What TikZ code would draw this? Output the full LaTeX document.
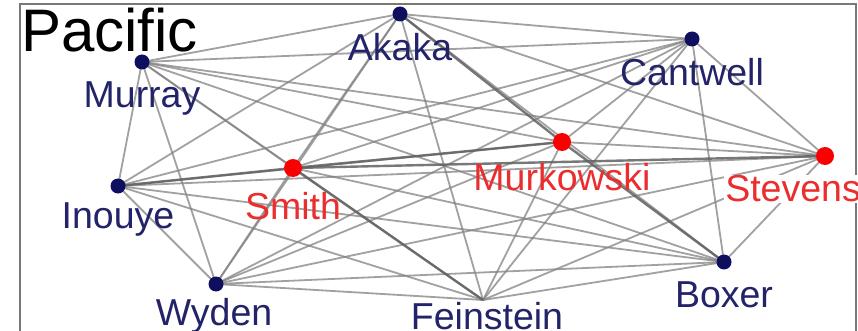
\documentclass[tikz,border=0pt]{standalone}
\usepackage{fontspec}
\setmainfont{Liberation Sans}
\definecolor{navydot}{RGB}{15,15,95}
\definecolor{navytext}{RGB}{35,35,105}
\definecolor{reddot}{RGB}{250,0,0}
\definecolor{redtext}{RGB}{235,45,45}
\definecolor{edgegray}{RGB}{130,130,130}
\definecolor{framegray}{RGB}{120,120,120}
\begin{document}
\begin{tikzpicture}[x=1pt,y=-1pt,
  tie/.style={draw=edgegray,line width=1.8pt,opacity=0.75},
  heavytie/.style={draw=edgegray!75!black,line width=2.4pt,opacity=0.85},
  bluedot/.style={circle,fill=navydot,inner sep=0pt,minimum size=15pt},
  reddotst/.style={circle,fill=reddot,inner sep=0pt,minimum size=18pt},
  namebase/.style={font=\fontsize{37.5}{42}\selectfont,inner sep=1pt},
  bluename/.style={namebase,text=navytext},
  redname/.style={namebase,text=redtext}]
\useasboundingbox (0,0) rectangle (858,331);
\fill[white] (0,0) rectangle (858,331);
% frame
\draw[framegray,line width=1.8pt] (20,345) -- (20,4) -- (856,4) -- (856,345);
% senators
\coordinate (A) at (400,14);
\coordinate (C) at (692,39);
\coordinate (Mu) at (142,62);
\coordinate (Mk) at (562,142);
\coordinate (Sm) at (293,168);
\coordinate (St) at (825,156);
\coordinate (I) at (118,186);
\coordinate (W) at (216,284);
\coordinate (F) at (483,300);
\coordinate (B) at (724,262);
% ties
\foreach \u/\v in {A/C,A/Mu,A/Sm,A/St,A/I,A/W,A/F,A/B,
  C/Mu,C/Mk,C/Sm,C/St,C/I,C/W,C/F,C/B,
  Mu/Mk,Mu/Sm,Mu/St,Mu/I,Mu/W,Mu/F,Mu/B,
  Mk/St,Mk/I,Mk/W,Mk/F,
  Sm/W,Sm/B,
  St/I,St/W,St/F,St/B,
  I/W,I/F,I/B,
  W/F,W/B,F/B}
  \draw[tie] (\u) -- (\v);
\foreach \u/\v in {A/Mk,Sm/Mk,Sm/St,Sm/I,Sm/F,Mk/B}
  \draw[heavytie] (\u) -- (\v);
% dots
\node[bluedot] (dA) at (A) {};
\node[bluedot] (dC) at (C) {};
\node[bluedot] (dMu) at (Mu) {};
\node[bluedot] (dI) at (I) {};
\node[bluedot] (dW) at (W) {};
\node[bluedot] (dB) at (B) {};
\node[reddotst] (dMk) at (Mk) {};
\node[reddotst] (dSm) at (Sm) {};
\node[reddotst] (dSt) at (St) {};
% names
\node[bluename] (lA) at (400,47) {Akaka};
\node[bluename] (lC) at (692,72) {Cantwell};
\node[bluename] (lMu) at (142,98) {Murray};
\node[bluename] (lI) at (118,219) {Inouye};
\node[bluename] (lW) at (214,316) {Wyden};
\node[bluename,fill=white] (lF) at (487,316) {Feinstein};
\node[bluename] (lB) at (724,295) {Boxer};
\node[redname] (lMk) at (562,177) {Murkowski};
\node[redname] (lSm) at (293,206) {Smith};
\node[redname,fill=white] (lSt) at (793,189) {Stevens};
\node[font=\fontsize{60}{64}\selectfont,anchor=west,inner sep=0pt] (title) at (21,30) {Pacific};
\end{tikzpicture}
\end{document}
